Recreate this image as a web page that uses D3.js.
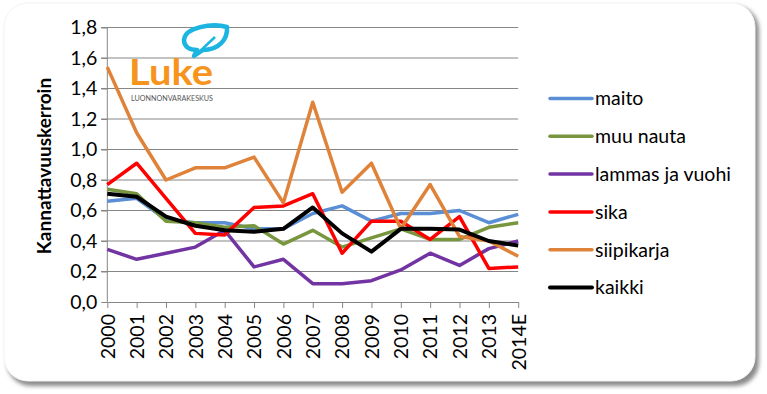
<!DOCTYPE html>
<meta charset="utf-8">
<script src="https://d3js.org/d3.v7.min.js"></script>
<style>
  body { margin: 0; background: #fff; }
  text { font-family: Lato, "Open Sans", sans-serif; }
</style>
<div id="vis"></div>
<script>

    // data
    var years = ["2000", "2001", "2002", "2003", "2004", "2005", "2006", "2007",
                 "2008", "2009", "2010", "2011", "2012", "2013", "2014E"]
    var maito      = [0.66, 0.68, 0.54, 0.52, 0.52, 0.48, 0.48, 0.58, 0.63, 0.53, 0.58, 0.58, 0.60, 0.52, 0.575]
    var muuNauta   = [0.74, 0.71, 0.53, 0.52, 0.49, 0.50, 0.38, 0.47, 0.36, 0.42, 0.48, 0.41, 0.41, 0.49, 0.52]
    var lammas     = [0.345, 0.28, 0.32, 0.36, 0.47, 0.23, 0.28, 0.12, 0.12, 0.14, 0.21, 0.32, 0.24, 0.35, 0.40]
    var sika       = [0.77, 0.91, 0.68, 0.45, 0.44, 0.62, 0.63, 0.71, 0.32, 0.53, 0.53, 0.41, 0.56, 0.22, 0.23]
    var siipikarja = [1.54, 1.11, 0.80, 0.88, 0.88, 0.95, 0.65, 1.31, 0.72, 0.91, 0.48, 0.77, 0.43, 0.40, 0.30]
    var kaikki     = [0.71, 0.69, 0.56, 0.50, 0.47, 0.46, 0.48, 0.62, 0.45, 0.33, 0.48, 0.48, 0.475, 0.40, 0.37]
    var yTicks = [0, 0.2, 0.4, 0.6, 0.8, 1.0, 1.2, 1.4, 1.6, 1.8]

    var series = [
        { name: "maito", values: maito, color: "#5a8fd6", w: 3.5 },
        { name: "muu nauta", values: muuNauta, color: "#77963d", w: 3.5 },
        { name: "lammas ja vuohi", values: lammas, color: "#7334a3", w: 3.5 },
        { name: "sika", values: sika, color: "#ff0000", w: 3.5 },
        { name: "siipikarja", values: siipikarja, color: "#e0833a", w: 3.5 },
        { name: "kaikki", values: kaikki, color: "#000000", w: 4 }
    ]

    var W = 767, H = 394
    var svg = d3.select("#vis").append("svg")
        .attr("width", W).attr("height", H)

    // frame with shadow
    var defs = svg.append("defs")
    defs.append("filter").attr("id", "blur")
        .attr("x", "-5%").attr("y", "-5%").attr("width", "110%").attr("height", "110%")
        .append("feGaussianBlur").attr("stdDeviation", 2)
    svg.append("rect")
        .attr("x", 7).attr("y", 6).attr("width", 752).attr("height", 380)
        .attr("rx", 24).attr("fill", "#8a8a8a").attr("filter", "url(#blur)")
    svg.append("rect")
        .attr("x", 4).attr("y", 3).attr("width", 751).attr("height", 378)
        .attr("rx", 24).attr("fill", "#fff").attr("stroke", "#f4f4f4")

    var x = d3.scalePoint().domain(years).range([107.3, 518.2])
    var y = d3.scaleLinear().domain([0, 1.8]).range([302, 27.5])

    // gridlines
    svg.append("g")
        .selectAll("line")
        .data(yTicks.slice(1))
        .enter().append("line")
        .attr("x1", 101).attr("x2", 518.2)
        .attr("y1", function (d) { return y(d) }).attr("y2", function (d) { return y(d) })
        .attr("stroke", "#868686").attr("stroke-width", 1)

    // y axis
    var yAxis = svg.append("g")
        .attr("transform", "translate(107.3,0)")
        .call(d3.axisLeft(y).tickValues(yTicks).tickSize(6).tickPadding(4)
            .tickFormat(function (d) { return d3.format(".1f")(d).replace(".", ",") }))
    yAxis.selectAll("line, path").attr("stroke", "#868686")
    yAxis.select(".domain").attr("d", "M0,27.5V302")
    yAxis.selectAll("text").style("font-size", "19.5px").attr("fill", "#000")

    // x axis
    var xAxis = svg.append("g")
        .attr("transform", "translate(0,302)")
        .call(d3.axisBottom(x).tickSize(6).tickSizeOuter(0))
    xAxis.selectAll("line, path").attr("stroke", "#868686")
    xAxis.selectAll("text")
        .style("font-size", "19.5px").attr("fill", "#000")
        .style("text-anchor", "end")
        .attr("transform", "rotate(-90)")
        .attr("x", -12).attr("y", 0).attr("dy", "0.35em")

    // y title
    svg.append("text")
        .attr("transform", "translate(51,166) rotate(-90)")
        .attr("text-anchor", "middle")
        .style("font-size", "19px").style("font-weight", "bold")
        .text("Kannattavuuskerroin")

    // logo
    var logo = svg.append("g")
    logo.append("path")
        .attr("d", "M227,27 C212,23 185,27 184,40 C184,47 190,50 197,50 L194,56 L203,50 C218,50 228,40 227,27 Z")
        .attr("fill", "none").attr("stroke", "#1cb5e2").attr("stroke-width", 4.5)
        .attr("stroke-linejoin", "round")
    logo.append("path")
        .attr("d", "M197,54 L215,37")
        .attr("stroke", "#1cb5e2").attr("stroke-width", 2.5)
    logo.append("text")
        .attr("x", 129).attr("y", 84.5)
        .style("font-size", "36px").style("font-weight", "bold")
        .attr("textLength", 84).attr("lengthAdjust", "spacingAndGlyphs")
        .attr("fill", "#f7941d")
        .text("Luke")
    logo.append("text")
        .attr("x", 131).attr("y", 100.5)
        .style("font-size", "7px")
        .attr("textLength", 82).attr("lengthAdjust", "spacingAndGlyphs")
        .attr("fill", "#555")
        .text("LUONNONVARAKESKUS")

    // lines
    var line = d3.line()
        .x(function (d, i) { return x(years[i]) })
        .y(function (d) { return y(d) })
    svg.append("g")
        .selectAll("path")
        .data(series)
        .enter().append("path")
        .attr("d", function (d) { return line(d.values) })
        .attr("fill", "none")
        .attr("stroke", function (d) { return d.color })
        .attr("stroke-width", function (d) { return d.w })
        .attr("stroke-linejoin", "round")

    // legend
    var legend = svg.append("g")
        .selectAll("g")
        .data(series)
        .enter().append("g")
        .attr("transform", function (d, i) { return "translate(550," + (98.5 + i * 37.8) + ")" })
    legend.append("line")
        .attr("x1", 0).attr("x2", 42)
        .attr("stroke", function (d) { return d.color })
        .attr("stroke-width", function (d) { return d.w })
        .attr("stroke-linecap", "round")
    legend.append("text")
        .attr("x", 45).attr("dy", "0.35em")
        .style("font-size", "19.5px")
        .text(function (d) { return d.name })

</script>
